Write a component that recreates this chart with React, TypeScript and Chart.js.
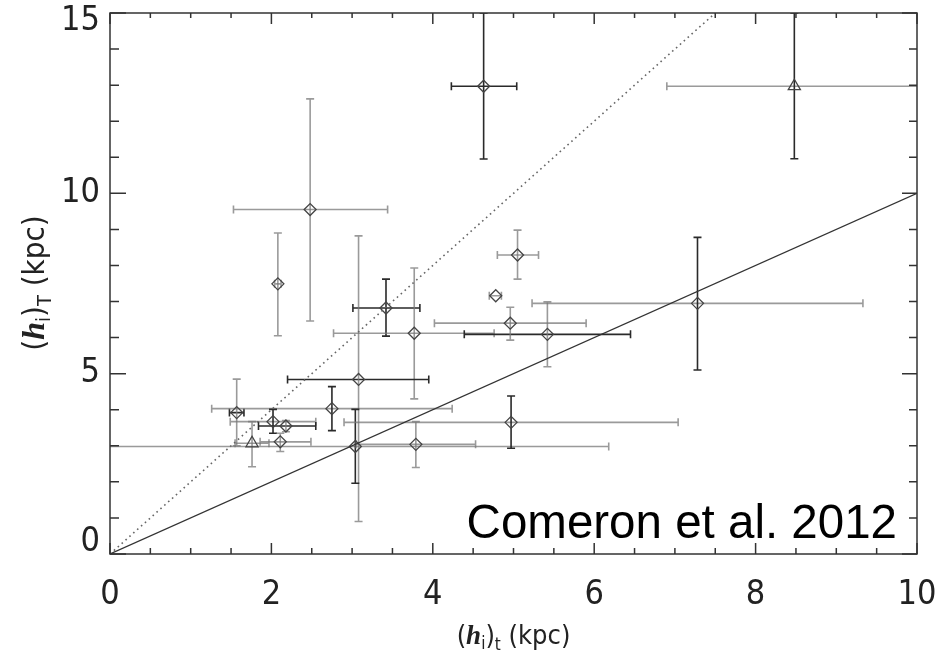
import { useEffect, useRef } from "react";
import { Chart, registerables } from "chart.js";

Chart.register(...registerables);

// ---------- data ----------
const xTickValues = [0, 2, 4, 6, 8, 10];
const yTickValues = [0, 5, 10, 15];

// diamond-marked galaxies
const diamondX = [4.63, 2.48, 2.08, 5.05, 4.78, 3.42, 3.77, 5.42, 4.96, 3.08, 7.28, 1.57, 2.75, 2.02, 2.18, 2.11, 3.04, 3.79, 4.97];
const diamondY = [12.97, 9.55, 7.49, 8.29, 7.16, 6.82, 6.12, 6.09, 6.4, 4.84, 6.95, 3.92, 4.03, 3.67, 3.55, 3.11, 2.98, 3.04, 3.65];
const diamondXLow = [4.23, 1.53, 2.04, 4.8, 4.7, 3.01, 2.77, 4.39, 4.02, 2.2, 5.23, 1.48, 1.26, 1.49, 1.84, 1.86, -0.1, 3.05, 2.9];
const diamondXHigh = [5.04, 3.44, 2.12, 5.31, 4.85, 3.84, 4.76, 6.45, 5.9, 3.95, 9.33, 1.66, 4.24, 2.55, 2.55, 2.49, 6.18, 4.53, 7.04];
const diamondYLow = [10.95, 6.46, 6.05, 7.62, 7.16, 6.04, 4.3, 5.19, 5.93, 0.9, 5.1, 3.0, 3.42, 3.35, 3.39, 2.84, 1.96, 2.4, 2.93];
const diamondYHigh = [15.0, 12.62, 8.9, 8.98, 7.16, 7.62, 7.93, 6.99, 6.84, 8.82, 8.78, 4.85, 4.64, 4.01, 3.7, 3.35, 4.01, 3.67, 4.38];

// triangle-marked galaxies
const triangleX = [1.76, 8.48];
const triangleY = [3.07, 12.97];
const triangleXLow = [1.55, 6.9];
const triangleXHigh = [1.97, 10.06];
const triangleYLow = [2.42, 10.96];
const triangleYHigh = [3.67, 15.0];

// reference relations
const oneToOneX = [0, 10];
const oneToOneY = [0, 10];
const twoToOneX = [0, 7.5];
const twoToOneY = [0, 15];

// ---------- styles ----------
const DARK = "#2a2a2a";
const GRAY = "rgba(120,120,120,0.75)";
const diamondXShade = ["d", "g", "g", "g", "g", "d", "g", "d", "g", "d", "g", "d", "g", "g", "d", "g", "g", "g", "g"];
const diamondYShade = ["d", "g", "g", "g", "g", "d", "g", "g", "g", "g", "d", "g", "d", "d", "g", "g", "d", "g", "d"];
const triangleXShade = ["g", "g"];
const triangleYShade = ["g", "d"];

const NARROW = '"Liberation Sans Narrow", "DejaVu Sans Condensed", "Arial Narrow", sans-serif';
const SERIF = '"Liberation Serif", "DejaVu Serif", serif';
const SANS = '"Liberation Sans", Arial, sans-serif';

function shade(s: string) {
  return s === "d" ? DARK : GRAY;
}

function drawErrorBars(chart: any, xs: number[], ys: number[], xl: number[], xh: number[], yl: number[], yh: number[], xs_: string[], ys_: string[]) {
  const ctx = chart.ctx;
  const sx = chart.scales.x;
  const sy = chart.scales.y;
  const cap = 4;
  for (let i = 0; i < xs.length; i++) {
    const px = sx.getPixelForValue(xs[i]);
    const py = sy.getPixelForValue(ys[i]);
    if (xh[i] > xl[i]) {
      const a = sx.getPixelForValue(xl[i]);
      const b = sx.getPixelForValue(xh[i]);
      ctx.strokeStyle = shade(xs_[i]);
      ctx.lineWidth = 1.6;
      ctx.beginPath();
      ctx.moveTo(a, py);
      ctx.lineTo(b, py);
      ctx.moveTo(a, py - cap);
      ctx.lineTo(a, py + cap);
      ctx.moveTo(b, py - cap);
      ctx.lineTo(b, py + cap);
      ctx.stroke();
    }
    if (yh[i] > yl[i]) {
      const a = sy.getPixelForValue(yl[i]);
      const b = sy.getPixelForValue(yh[i]);
      ctx.strokeStyle = shade(ys_[i]);
      ctx.lineWidth = 1.6;
      ctx.beginPath();
      ctx.moveTo(px, a);
      ctx.lineTo(px, b);
      ctx.moveTo(px - cap, a);
      ctx.lineTo(px + cap, a);
      ctx.moveTo(px - cap, b);
      ctx.lineTo(px + cap, b);
      ctx.stroke();
    }
  }
}

type Part = { t: string; font: string; dy?: number };

function drawRich(ctx: CanvasRenderingContext2D, parts: Part[], x: number, y: number, rot: number) {
  ctx.save();
  ctx.translate(x, y);
  ctx.rotate(rot);
  let total = 0;
  const widths: number[] = [];
  for (const p of parts) {
    ctx.font = p.font;
    const w = ctx.measureText(p.t).width;
    widths.push(w);
    total += w;
  }
  let cx = -total / 2;
  ctx.fillStyle = "#222";
  ctx.textBaseline = "alphabetic";
  ctx.textAlign = "left";
  parts.forEach((p, i) => {
    ctx.font = p.font;
    ctx.fillText(p.t, cx, p.dy || 0);
    cx += widths[i];
  });
  ctx.restore();
}

const framePlugin = {
  id: "frameAndText",
  beforeDraw(chart: any) {
    // nudge the end labels of the y axis inward, as in the original figure
    const sy = chart.scales.y;
    if (sy && typeof sy.getLabelItems === "function") {
      const items = sy.getLabelItems();
      const ticks = sy.ticks || [];
      items.forEach((it: any, i: number) => {
        const v = ticks[i] ? ticks[i].value : null;
        if (!it.options || !it.options.translation) return;
        if (v === 0) it.options.translation[1] -= 12;
        if (v === 15) it.options.translation[1] += 8;
      });
    }
  },
  beforeDatasetsDraw(chart: any) {
    const ctx = chart.ctx;
    const a = chart.chartArea;
    ctx.save();
    ctx.beginPath();
    ctx.rect(a.left, a.top, a.right - a.left, a.bottom - a.top);
    ctx.clip();
    drawErrorBars(chart, diamondX, diamondY, diamondXLow, diamondXHigh, diamondYLow, diamondYHigh, diamondXShade, diamondYShade);
    drawErrorBars(chart, triangleX, triangleY, triangleXLow, triangleXHigh, triangleYLow, triangleYHigh, triangleXShade, triangleYShade);
    ctx.restore();
  },
  afterDraw(chart: any) {
    const ctx = chart.ctx;
    const a = chart.chartArea;
    const sx = chart.scales.x;
    const sy = chart.scales.y;
    ctx.save();
    ctx.strokeStyle = "#333";
    ctx.lineWidth = 1.5;
    ctx.strokeRect(a.left, a.top, a.right - a.left, a.bottom - a.top);
    ctx.beginPath();
    for (let k = 0; k <= 20; k++) {
      const v = k * 0.5;
      const px = sx.getPixelForValue(v);
      const major = k % 4 === 0;
      const lb = major ? 11 : 6;
      const lt = major ? 11 : 5;
      ctx.moveTo(px, a.bottom);
      ctx.lineTo(px, a.bottom - lb);
      ctx.moveTo(px, a.top);
      ctx.lineTo(px, a.top + lt);
    }
    for (let k = 0; k <= 15; k++) {
      const py = sy.getPixelForValue(k);
      const major = k % 5 === 0;
      const l = major ? 16 : 9;
      ctx.moveTo(a.left, py);
      ctx.lineTo(a.left + l, py);
      ctx.moveTo(a.right, py);
      ctx.lineTo(a.right - (major ? 15 : 8), py);
    }
    ctx.stroke();
    ctx.restore();

    // axis titles
    const norm = "27px " + NARROW;
    const hFont = "italic bold 27px " + SERIF;
    const sub = "17px " + NARROW;
    drawRich(ctx, [
      { t: "(", font: norm },
      { t: "h", font: hFont },
      { t: "i", font: sub, dy: 5 },
      { t: ")", font: norm },
      { t: "t", font: sub, dy: 6 },
      { t: " (kpc)", font: norm },
    ], (a.left + a.right) / 2, 644, 0);
    const normY = "31px " + NARROW;
    const hFontY = "italic bold 32px " + SERIF;
    const subY = "20px " + NARROW;
    drawRich(ctx, [
      { t: "(", font: normY },
      { t: "h", font: hFontY },
      { t: "i", font: subY, dy: 6 },
      { t: ")", font: normY },
      { t: "T", font: subY, dy: 7 },
      { t: " (kpc)", font: normY },
    ], 44, 283, -Math.PI / 2);

    // annotation
    ctx.save();
    ctx.font = "47.5px " + SANS;
    ctx.fillStyle = "#000";
    ctx.textAlign = "right";
    ctx.textBaseline = "alphabetic";
    ctx.fillText("Comeron et al. 2012", 897, 538);
    ctx.restore();
  },
};

export default function App() {
  const ref = useRef<HTMLCanvasElement | null>(null);
  useEffect(() => {
    if (!ref.current) return;
    const chart = new Chart(ref.current, {
      type: "scatter",
      data: {
        datasets: [
          {
            type: "line",
            label: "1:1",
            data: oneToOneX.map((x, i) => ({ x, y: oneToOneY[i] })),
            borderColor: "#333",
            borderWidth: 1.2,
            pointRadius: 0,
            fill: false,
          },
          {
            type: "line",
            label: "2:1",
            data: twoToOneX.map((x, i) => ({ x, y: twoToOneY[i] })),
            borderColor: "#666",
            borderWidth: 1.6,
            borderDash: [1.6, 3.6],
            pointRadius: 0,
            fill: false,
          },
          {
            label: "diamonds",
            data: diamondX.map((x, i) => ({ x, y: diamondY[i] })),
            pointStyle: "rectRot",
            pointRadius: 6,
            borderColor: "#444",
            borderWidth: 1.3,
            backgroundColor: "rgba(255,255,255,0)",
          },
          {
            label: "triangles",
            data: triangleX.map((x, i) => ({ x, y: triangleY[i] })),
            pointStyle: "triangle",
            pointRadius: 7,
            borderColor: "#444",
            borderWidth: 1.3,
            backgroundColor: "rgba(255,255,255,0)",
          },
        ],
      } as any,
      options: {
        responsive: false,
        animation: false,
        layout: { padding: { left: 0, right: 18, top: 13, bottom: 0 } },
        plugins: { legend: { display: false }, tooltip: { enabled: false } },
        scales: {
          x: {
            type: "linear",
            min: 0,
            max: 10,
            afterBuildTicks: (s: any) => {
              s.ticks = xTickValues.map((v) => ({ value: v }));
            },
            ticks: { padding: 21, color: "#222", font: { family: NARROW, size: 34 }, maxRotation: 0 },
            grid: { display: false, drawTicks: false },
            border: { display: false },
            afterFit: (s: any) => {
              s.height = 101;
              s.paddingLeft = 0;
              s.paddingRight = 0;
            },
          },
          y: {
            type: "linear",
            min: 0,
            max: 15,
            afterBuildTicks: (s: any) => {
              s.ticks = yTickValues.map((v) => ({ value: v }));
            },
            ticks: { padding: 10, color: "#222", font: { family: NARROW, size: 34 } },
            grid: { display: false, drawTicks: false },
            border: { display: false },
            afterFit: (s: any) => {
              s.width = 110;
              s.paddingTop = 0;
              s.paddingBottom = 0;
            },
          },
        },
      } as any,
      plugins: [framePlugin],
    });
    return () => chart.destroy();
  }, []);
  return (
    <div style={{ position: "fixed", left: 0, top: 0, width: 935, height: 655, background: "#fff" }}>
      <canvas ref={ref} width={935} height={655} style={{ display: "block" }} />
    </div>
  );
}
